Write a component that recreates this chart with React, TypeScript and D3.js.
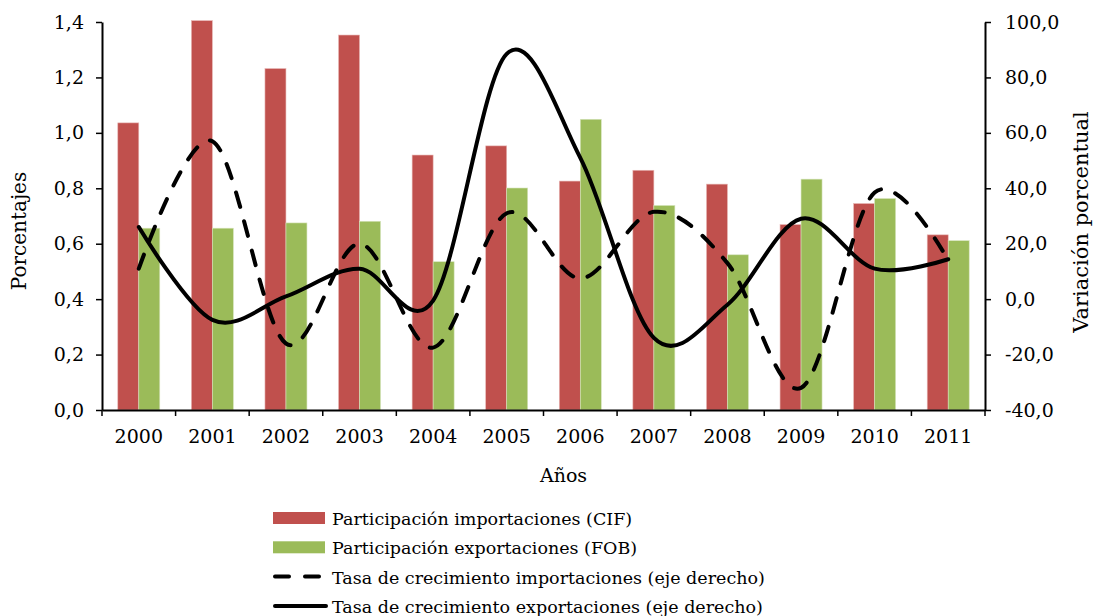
import { useEffect, useRef } from "react";
import * as d3 from "d3";

const years = ["2000", "2001", "2002", "2003", "2004", "2005", "2006", "2007", "2008", "2009", "2010", "2011"];
const importShare = [1.036, 1.405, 1.232, 1.353, 0.92, 0.953, 0.826, 0.865, 0.815, 0.669, 0.745, 0.632];
const exportShare = [0.656, 0.656, 0.675, 0.681, 0.535, 0.801, 1.049, 0.738, 0.56, 0.833, 0.763, 0.611];
const importGrowth = [11, 57, -16, 20, -17.5, 31, 7.5, 31.5, 13, -32, 38.5, 14];
const exportGrowth = [26, -7.5, 1, 11, -0.5, 88.5, 51, -14, -2, 29, 11, 14.4];
const leftTicks = [0, 0.2, 0.4, 0.6, 0.8, 1.0, 1.2, 1.4];
const rightTicks = [-40, -20, 0, 20, 40, 60, 80, 100];

const legendItems = [
  { label: "Participación importaciones (CIF)", kind: "bar", color: "#C0504D" },
  { label: "Participación exportaciones (FOB)", kind: "bar", color: "#9BBB59" },
  { label: "Tasa de crecimiento importaciones (eje derecho)", kind: "dash", color: "#000" },
  { label: "Tasa de crecimiento exportaciones (eje derecho)", kind: "line", color: "#000" },
];

const W = 1098;
const H = 616;
const FONT = "'DejaVu Serif', serif";

const fmt = (d: number) => d3.format(".1f")(d).replace(".", ",").replace("\u2212", "-");

export default function App() {
  const svgRef = useRef<SVGSVGElement | null>(null);

  useEffect(() => {
    if (!svgRef.current) return;
    const svg = d3.select(svgRef.current);
    svg.selectAll("*").remove();

    const margin = { top: 22, right: 113, bottom: 206, left: 102 };
    const plotW = W - margin.left - margin.right;
    const plotH = H - margin.top - margin.bottom;

    const g = svg.append("g").attr("transform", `translate(${margin.left},${margin.top})`);

    const x = d3.scaleBand().domain(years).range([0, plotW]).paddingInner(0).paddingOuter(0);
    const yL = d3.scaleLinear().domain([0, 1.4]).range([plotH, 0]);
    const yR = d3.scaleLinear().domain([-40, 100]).range([plotH, 0]);

    const barW = 21;

    // bars
    g.selectAll(".imp")
      .data(importShare)
      .enter()
      .append("rect")
      .attr("x", (_, i) => x(years[i])! + x.bandwidth() / 2 - barW)
      .attr("y", d => yL(d))
      .attr("width", barW)
      .attr("height", d => yL(0) - yL(d))
      .attr("fill", "#C0504D")
      .attr("stroke", "#e8b8b6")
      .attr("stroke-width", 0.6);

    g.selectAll(".exp")
      .data(exportShare)
      .enter()
      .append("rect")
      .attr("x", (_, i) => x(years[i])! + x.bandwidth() / 2)
      .attr("y", d => yL(d))
      .attr("width", barW)
      .attr("height", d => yL(0) - yL(d))
      .attr("fill", "#9BBB59")
      .attr("stroke", "#d6e4bd")
      .attr("stroke-width", 0.6);

    // smoothed lines (Excel-like)
    const line = d3.line<number>()
      .x((_, i) => x(years[i])! + x.bandwidth() / 2)
      .y(d => yR(d))
      .curve(d3.curveCatmullRom.alpha(0));

    g.append("path")
      .datum(importGrowth)
      .attr("d", line)
      .attr("fill", "none")
      .attr("stroke", "#000")
      .attr("stroke-width", 4)
      .attr("stroke-linecap", "round")
      .attr("stroke-dasharray", "15,15");

    g.append("path")
      .datum(exportGrowth)
      .attr("d", line)
      .attr("fill", "none")
      .attr("stroke", "#000")
      .attr("stroke-width", 4)
      .attr("stroke-linecap", "round");

    // axes
    const styleAxis = (sel: d3.Selection<SVGGElement, unknown, null, undefined>) => {
      sel.select(".domain").attr("stroke", "#000").attr("stroke-width", 2);
      sel.selectAll(".tick line").attr("stroke", "#000").attr("stroke-width", 1.5);
      sel.selectAll("text").attr("font-family", FONT).attr("font-size", 19).attr("fill", "#000");
    };

    const xAxisG = g.append("g")
      .attr("transform", `translate(0,${plotH})`)
      .call(d3.axisBottom(x).tickSize(0).tickPadding(20));
    styleAxis(xAxisG);
    // tick marks between categories
    xAxisG.selectAll(".sep")
      .data(d3.range(years.length + 1))
      .enter()
      .append("line")
      .attr("x1", i => i * x.step())
      .attr("x2", i => i * x.step())
      .attr("y1", 0)
      .attr("y2", 6)
      .attr("stroke", "#000")
      .attr("stroke-width", 1.5);

    const yLG = g.append("g")
      .call(d3.axisLeft(yL).tickValues(leftTicks).tickSize(6).tickSizeOuter(0).tickPadding(12)
        .tickFormat(d => fmt(d as number)));
    styleAxis(yLG);

    const yRG = g.append("g")
      .attr("transform", `translate(${plotW},0)`)
      .call(d3.axisRight(yR).tickValues(rightTicks).tickSize(6).tickSizeOuter(0).tickPadding(14)
        .tickFormat(d => fmt(d as number)));
    styleAxis(yRG);

    // axis titles
    svg.append("text")
      .attr("transform", `translate(26,${231}) rotate(-90)`)
      .attr("text-anchor", "middle")
      .attr("font-family", FONT)
      .attr("font-size", 20)
      .text("Porcentajes");

    svg.append("text")
      .attr("transform", `translate(1088,${222}) rotate(-90)`)
      .attr("text-anchor", "middle")
      .attr("font-family", FONT)
      .attr("font-size", 21)
      .text("Variación porcentual");

    svg.append("text")
      .attr("x", margin.left + plotW / 2 + 20)
      .attr("y", 482)
      .attr("text-anchor", "middle")
      .attr("font-family", FONT)
      .attr("font-size", 19)
      .text("Años");

    // legend
    const legend = svg.append("g").attr("transform", "translate(273,518)");
    legendItems.forEach((item, i) => {
      const row = legend.append("g").attr("transform", `translate(0,${i * 29.3})`);
      if (item.kind === "bar") {
        row.append("rect").attr("x", 0).attr("y", -6).attr("width", 52).attr("height", 12).attr("fill", item.color);
      } else if (item.kind === "dash") {
        row.append("line").attr("x1", 2).attr("x2", 50).attr("y1", 0).attr("y2", 0)
          .attr("stroke", "#000").attr("stroke-width", 4).attr("stroke-linecap", "round")
          .attr("stroke-dasharray", "14,16");
      } else {
        row.append("line").attr("x1", 2).attr("x2", 53).attr("y1", 0).attr("y2", 0)
          .attr("stroke", "#000").attr("stroke-width", 4).attr("stroke-linecap", "round");
      }
      row.append("text")
        .attr("x", 59)
        .attr("y", 7)
        .attr("font-family", FONT)
        .attr("font-size", 17.5)
        .text(item.label);
    });
  }, []);

  return (
    <div style={{ position: "absolute", left: 0, top: 0 }}>
      <svg ref={svgRef} width={W} height={H} style={{ display: "block", background: "#fff" }} />
    </div>
  );
}
